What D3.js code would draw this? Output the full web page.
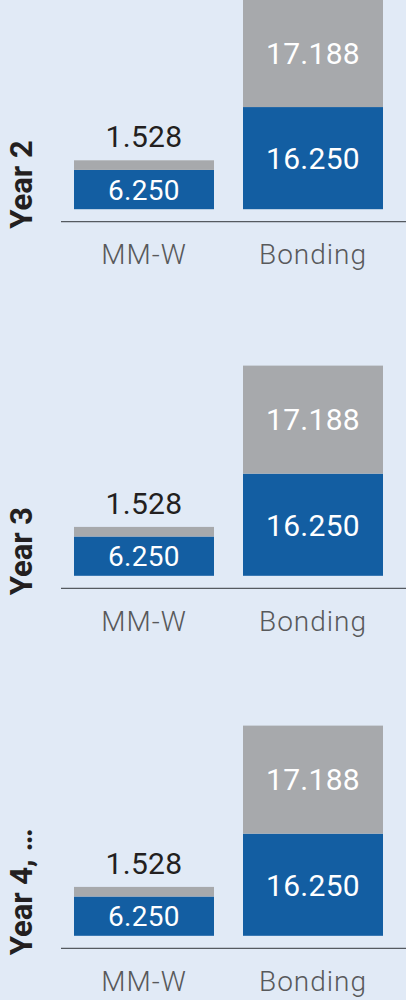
<!DOCTYPE html>
<html>
<head>
<meta charset="utf-8">
<script src="https://cdn.jsdelivr.net/npm/d3@7"></script>
<style>
  html, body { margin: 0; padding: 0; background: #e1eaf6; }
  svg { display: block; font-family: Roboto, "Noto Sans", sans-serif; }
</style>
</head>
<body>
<div id="chart"></div>
<script>
// data
var categories = ["MM-W", "Bonding"];
var years = ["Year 2", "Year 3", "Year 4, \u2026"];
var baseValues = [6.250, 16.250];     // blue part
var extraValues = [1.528, 17.188];    // grey part on top
var labelFormat = function(v) { return v.toFixed(3); };

var svgWidth = 406;
var svgHeight = 1000;

// y of the axis line for each panel
var panelAxisY = [221.7, 588.3, 948.3];

var svg = d3.select("#chart")
  .append("svg")
  .attr("width", svgWidth)
  .attr("height", svgHeight);

var x = d3.scaleBand()
  .domain(categories)
  .range([74, 383])
  .paddingInner(0.1716)
  .paddingOuter(0);

// bar heights grow upwards from the bar baseline
var y = d3.scaleLinear()
  .domain([0, 35])
  .range([0, -220]);

var blue = "#135ea2";
var grey = "#a7a9ac";

var rows = categories.map(function(c, i) {
  return { cat: c, base: baseValues[i], extra: extraValues[i] };
});

years.forEach(function(yr, p) {
  var g = svg.append("g")
    .attr("transform", `translate(0, ${panelAxisY[p]})`);

  // bars sit a little above the axis line
  var bars = g.append("g").attr("transform", "translate(0, -12.5)");

  bars.selectAll(".base")
    .data(rows)
    .enter()
    .append("rect")
    .attr("class", "base")
    .attr("x", d => x(d.cat))
    .attr("width", x.bandwidth())
    .attr("y", d => y(d.base))
    .attr("height", d => y(0) - y(d.base))
    .attr("fill", blue);

  bars.selectAll(".extra")
    .data(rows)
    .enter()
    .append("rect")
    .attr("class", "extra")
    .attr("x", d => x(d.cat))
    .attr("width", x.bandwidth())
    .attr("y", d => y(d.base + d.extra))
    .attr("height", d => y(d.base) - y(d.base + d.extra))
    .attr("fill", grey);

  // blue labels
  bars.selectAll(".baseLabel")
    .data(rows)
    .enter()
    .append("text")
    .attr("x", d => x(d.cat) + x.bandwidth() / 2)
    .attr("y", d => y(d.base / 2))
    .attr("dy", "0.36em")
    .attr("text-anchor", "middle")
    .attr("fill", "#ffffff")
    .attr("font-size", d => d.cat === "MM-W" ? "28px" : "30px")
    .attr("letter-spacing", "0.3px")
    .text(d => labelFormat(d.base));

  // grey labels: inside when the segment is tall, above when thin
  bars.selectAll(".extraLabel")
    .data(rows)
    .enter()
    .append("text")
    .attr("x", d => x(d.cat) + x.bandwidth() / 2)
    .attr("y", function(d) {
      var h = y(d.base) - y(d.base + d.extra);
      return h > 40 ? y(d.base + d.extra / 2) : y(d.base + d.extra) - 13;
    })
    .attr("dy", function(d) {
      var h = y(d.base) - y(d.base + d.extra);
      return h > 40 ? "0.36em" : "0";
    })
    .attr("text-anchor", "middle")
    .attr("fill", function(d) {
      var h = y(d.base) - y(d.base + d.extra);
      return h > 40 ? "#ffffff" : "#231f20";
    })
    .attr("font-size", "30px")
    .attr("letter-spacing", "0.3px")
    .text(d => labelFormat(d.extra));

  // axis line
  g.append("line")
    .attr("x1", 61)
    .attr("x2", svgWidth)
    .attr("y1", 0)
    .attr("y2", 0)
    .attr("stroke", "#555a60")
    .attr("stroke-width", 1.3);

  // category labels
  var axis = d3.axisBottom(x).tickSize(0).tickPadding(0);
  var ax = g.append("g").call(axis);
  ax.select(".domain").remove();
  ax.selectAll("text")
    .attr("y", 42.6)
    .attr("dy", 0)
    .attr("fill", "#58595b")
    .attr("font-size", "28px")
    .attr("font-weight", 300)
    .attr("letter-spacing", "1px")
    .attr("font-family", "Roboto, sans-serif");

  // year label, reading bottom to top
  g.append("text")
    .attr("transform", "translate(32, 7) rotate(-90)")
    .attr("text-anchor", "start")
    .attr("fill", "#231f20")
    .attr("font-size", "31px")
    .attr("font-weight", 700)
    .text(yr);
});
</script>
</body>
</html>
